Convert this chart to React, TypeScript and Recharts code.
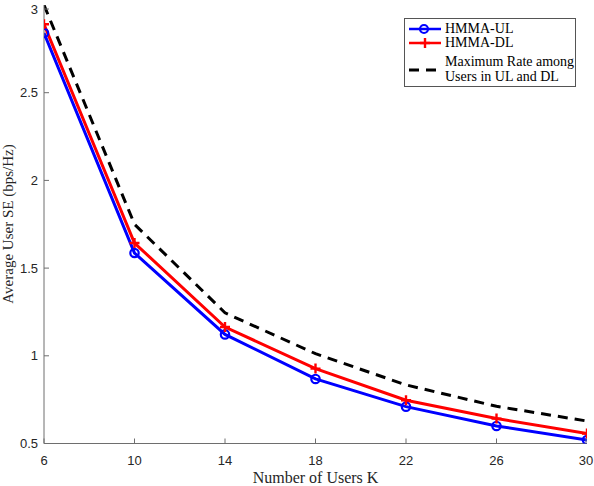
import React from "react";
import { LineChart, Line, XAxis, YAxis, Legend, Label } from "recharts";

const users = [6, 10, 14, 18, 22, 26, 30];
const hmmaUL = [2.84, 1.586, 1.122, 0.868, 0.71, 0.6, 0.52];
const hmmaDL = [2.89, 1.643, 1.164, 0.927, 0.747, 0.642, 0.557];
const maxRate = [3.0, 1.75, 1.245, 1.012, 0.834, 0.712, 0.628];

const xTicks = [6, 10, 14, 18, 22, 26, 30];
const yTicks = [0.5, 1, 1.5, 2, 2.5, 3];

const seriesNames = ["HMMA-UL", "HMMA-DL", "Maximum Rate among\nUsers in UL and DL"];
const seriesColors = ["#0000ff", "#ff0000", "#000000"];

const data = users.map((k, i) => ({
  k,
  ul: hmmaUL[i],
  dl: hmmaDL[i],
  max: maxRate[i],
}));

const SERIF = "'Liberation Serif', 'Times New Roman', serif";
const SANS = "'Liberation Sans', Arial, sans-serif";
const AXIS = "#6e6e6e";
const TEXT = "#262626";

const BottomTick = (props: any) => {
  const { x, y, payload } = props;
  return (
    <g>
      <line x1={x} y1={y} x2={x} y2={y - 5} stroke={AXIS} strokeWidth={1} />
      <text x={x} y={y + 21} textAnchor="middle" fontFamily={SANS} fontSize={13} fill={TEXT}>
        {payload.value}
      </text>
    </g>
  );
};

const TopTick = (props: any) => {
  const { x, y } = props;
  return <line x1={x} y1={y} x2={x} y2={y + 5} stroke={AXIS} strokeWidth={1} />;
};

const LeftTick = (props: any) => {
  const { x, y, payload } = props;
  return (
    <g>
      <line x1={x} y1={y} x2={x + 5} y2={y} stroke={AXIS} strokeWidth={1} />
      <text x={x - 6} y={y + 4.5} textAnchor="end" fontFamily={SANS} fontSize={13} fill={TEXT}>
        {payload.value}
      </text>
    </g>
  );
};

const RightTick = (props: any) => {
  const { x, y } = props;
  return <line x1={x} y1={y} x2={x - 5} y2={y} stroke={AXIS} strokeWidth={1} />;
};

const CircleDot = (props: any) => {
  const { cx, cy } = props;
  if (cx == null || cy == null) return null;
  return <circle cx={cx} cy={cy} r={4.2} fill="none" stroke={seriesColors[0]} strokeWidth={2.2} />;
};

const PlusDot = (props: any) => {
  const { cx, cy } = props;
  if (cx == null || cy == null) return null;
  return (
    <g stroke={seriesColors[1]} strokeWidth={2.4}>
      <line x1={cx - 5} y1={cy} x2={cx + 5} y2={cy} />
      <line x1={cx} y1={cy - 5} x2={cx} y2={cy + 5} />
    </g>
  );
};

const LegendBox = () => {
  const rowStyle: React.CSSProperties = {
    position: "absolute",
    left: 40,
    fontFamily: SERIF,
    fontSize: 14,
    color: "#000",
    whiteSpace: "pre-line",
  };
  return (
    <div
      style={{
        position: "relative",
        width: 172,
        height: 69,
        boxSizing: "border-box",
        border: "1px solid #555",
        background: "#fff",
      }}
    >
      <svg width={40} height={67} style={{ position: "absolute", left: 0, top: 0 }}>
        <line x1={4} y1={10} x2={36} y2={10} stroke={seriesColors[0]} strokeWidth={2.5} />
        <circle cx={19} cy={10} r={4} fill="none" stroke={seriesColors[0]} strokeWidth={2.2} />
        <line x1={4} y1={24} x2={36} y2={24} stroke={seriesColors[1]} strokeWidth={2.5} />
        <line x1={15} y1={24} x2={25} y2={24} stroke={seriesColors[1]} strokeWidth={2.4} />
        <line x1={20} y1={19} x2={20} y2={29} stroke={seriesColors[1]} strokeWidth={2.4} />
        <line x1={4} y1={51} x2={36} y2={51} stroke={seriesColors[2]} strokeWidth={3} strokeDasharray="10 7" />
      </svg>
      <div style={{ ...rowStyle, top: 2, lineHeight: "16px" }}>{seriesNames[0]}</div>
      <div style={{ ...rowStyle, top: 16, lineHeight: "16px" }}>{seriesNames[1]}</div>
      <div style={{ ...rowStyle, top: 35, lineHeight: "15.3px" }}>{seriesNames[2]}</div>
    </div>
  );
};

export default function App() {
  return (
    <div style={{ position: "absolute", left: 0, top: 0, width: 594, height: 486, background: "#fff" }}>
      <LineChart
        width={594}
        height={486}
        data={data}
        margin={{ top: 5, right: 7, bottom: 0, left: 0 }}
      >
        <XAxis
          dataKey="k"
          type="number"
          domain={[6, 30]}
          ticks={xTicks}
          allowDataOverflow
          height={42.5}
          tickSize={0}
          tickMargin={0}
          tickLine={false}
          axisLine={{ stroke: AXIS, strokeWidth: 1 }}
          tick={<BottomTick />}
        >
          <Label
            content={() => (
              <text x={315.5} y={483} textAnchor="middle" fontFamily={SERIF} fontSize={16} fill={TEXT}>
                Number of Users K
              </text>
            )}
          />
        </XAxis>
        <XAxis
          xAxisId="top"
          orientation="top"
          dataKey="k"
          type="number"
          domain={[6, 30]}
          ticks={xTicks}
          allowDataOverflow
          height={0}
          tickSize={0}
          tickMargin={0}
          tickLine={false}
          axisLine={{ stroke: AXIS, strokeWidth: 1 }}
          tick={<TopTick />}
        />
        <YAxis
          type="number"
          domain={[0.5, 3]}
          ticks={yTicks}
          allowDataOverflow
          width={44}
          tickSize={0}
          tickMargin={0}
          tickLine={false}
          axisLine={{ stroke: AXIS, strokeWidth: 1 }}
          tick={<LeftTick />}
        >
          <Label
            content={() => (
              <text
                x={13}
                y={224}
                textAnchor="middle"
                fontFamily={SERIF}
                fontSize={15}
                fill={TEXT}
                transform="rotate(-90 13 224)"
              >
                Average User SE (bps/Hz)
              </text>
            )}
          />
        </YAxis>
        <YAxis
          yAxisId="right"
          orientation="right"
          type="number"
          domain={[0.5, 3]}
          ticks={yTicks}
          allowDataOverflow
          width={0}
          tickSize={0}
          tickMargin={0}
          tickLine={false}
          axisLine={{ stroke: AXIS, strokeWidth: 1 }}
          tick={<RightTick />}
        />
        <Legend
          layout="horizontal"
          verticalAlign="middle"
          align="center"
          content={() => <LegendBox />}
          wrapperStyle={{ position: "absolute", left: 404, top: 18, width: 172, height: 69 }}
        />
        <Line
          dataKey="max"
          name={seriesNames[2]}
          stroke={seriesColors[2]}
          strokeWidth={3}
          strokeDasharray="10 7"
          dot={false}
          isAnimationActive={false}
        />
        <Line
          dataKey="ul"
          name={seriesNames[0]}
          stroke={seriesColors[0]}
          strokeWidth={3}
          dot={<CircleDot />}
          isAnimationActive={false}
        />
        <Line
          dataKey="dl"
          name={seriesNames[1]}
          stroke={seriesColors[1]}
          strokeWidth={3}
          dot={<PlusDot />}
          isAnimationActive={false}
        />
      </LineChart>
    </div>
  );
}
